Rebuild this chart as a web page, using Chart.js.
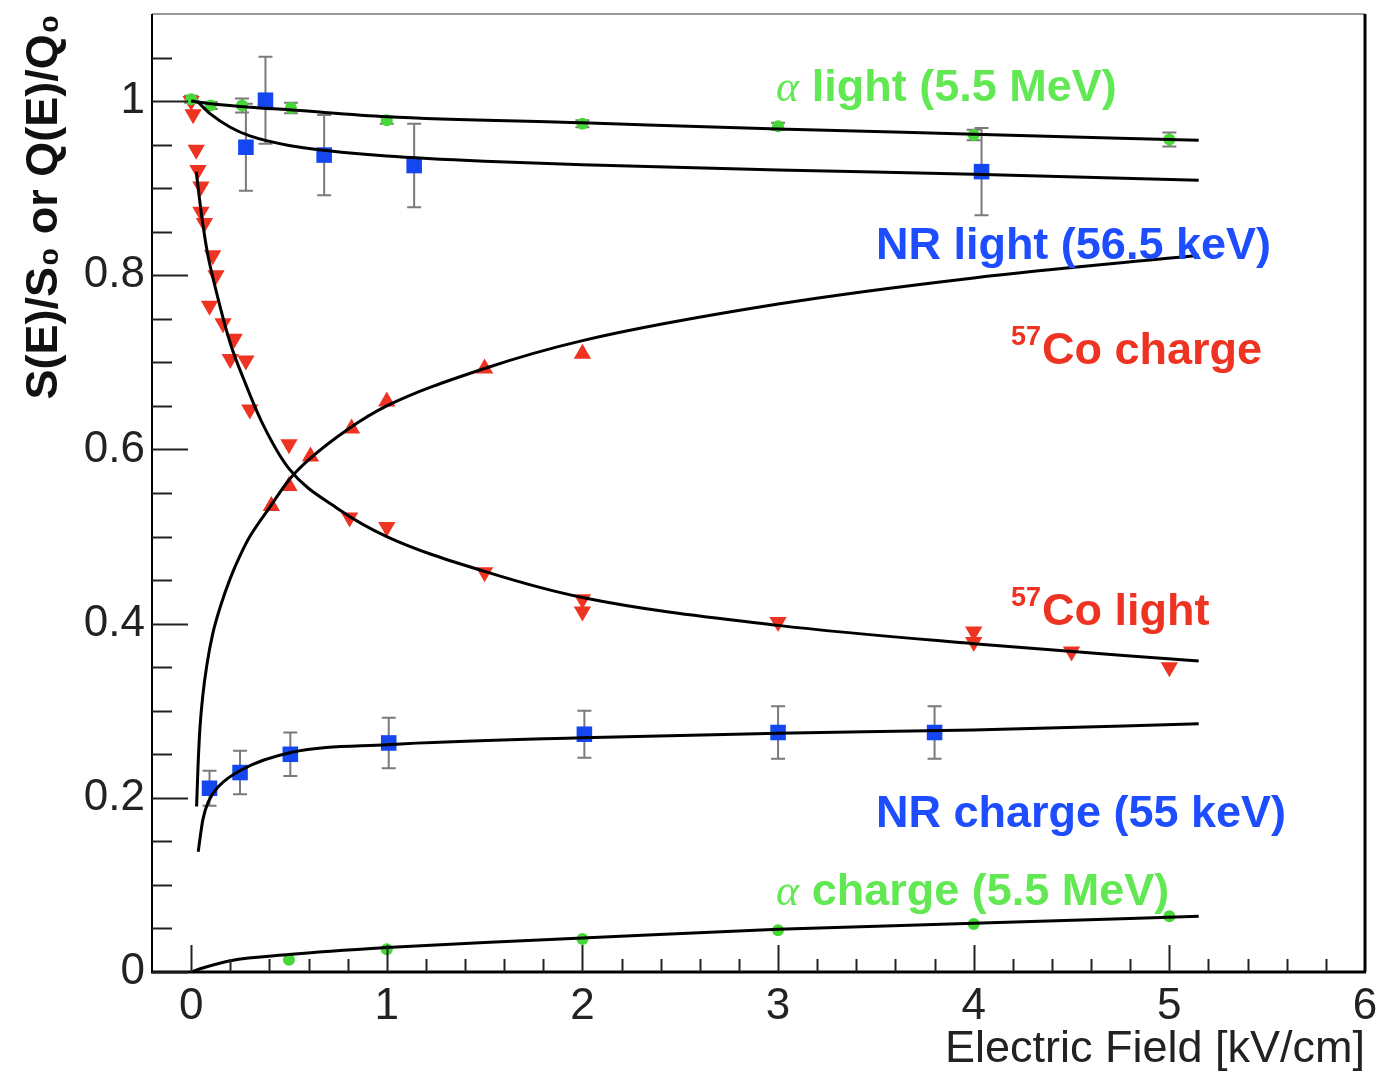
<!DOCTYPE html>
<html>
<head>
<meta charset="utf-8">
<script src="https://cdn.jsdelivr.net/npm/chart.js@4.4.1/dist/chart.umd.min.js"></script>
<style>
  html, body { margin: 0; padding: 0; background: #ffffff; }
  #wrap { width: 1392px; height: 1075px; position: relative; }
</style>
</head>
<body>
<div id="wrap"><canvas id="c" width="1392" height="1075"></canvas></div>
<script>
// ---------- axis ticks ----------
const xTickValues = [0, 1, 2, 3, 4, 5, 6];
const xTickLabels = ['0', '1', '2', '3', '4', '5', '6'];
const yTickValues = [0, 0.2, 0.4, 0.6, 0.8, 1.0];
const yTickLabels = ['0', '0.2', '0.4', '0.6', '0.8', '1'];

// ---------- measured points ----------
const alphaLightX = [0, 0.1, 0.26, 0.51, 1, 2, 3, 4, 5];
const alphaLightY = [1.002, 0.995, 0.995, 0.992, 0.978, 0.974, 0.971, 0.961, 0.956];
const alphaLightErr = [0.004, 0.004, 0.008, 0.006, 0.004, 0.004, 0.004, 0.006, 0.008];

const nrLightX = [0.28, 0.38, 0.68, 1.14, 4.04];
const nrLightY = [0.947, 1.001, 0.938, 0.926, 0.919];
const nrLightErr = [0.05, 0.05, 0.046, 0.048, 0.05];

const coLightX = [0, 0.01, 0.026, 0.035, 0.05, 0.05, 0.068, 0.094, 0.11, 0.127, 0.163, 0.2, 0.22, 0.28, 0.3, 0.5, 0.81, 1.0, 1.5, 2, 2, 3, 4, 4, 4.5, 5];
const coLightY = [1.0, 0.985, 0.944, 0.921, 0.902, 0.873, 0.86, 0.765, 0.823, 0.80, 0.745, 0.704, 0.727, 0.702, 0.646, 0.606, 0.522, 0.511, 0.459, 0.428, 0.414, 0.402, 0.391, 0.379, 0.368, 0.35];

const coChargeX = [0.41, 0.5, 0.61, 0.82, 1.0, 1.5, 2.0];
const coChargeY = [0.535, 0.558, 0.592, 0.624, 0.655, 0.693, 0.71];

const nrChargeX = [0.094, 0.25, 0.507, 1.01, 2.01, 3.0, 3.8];
const nrChargeY = [0.211, 0.229, 0.25, 0.263, 0.273, 0.275, 0.275];
const nrChargeErr = [0.02, 0.025, 0.025, 0.029, 0.027, 0.03, 0.03];

const alphaChargeX = [0.5, 1, 2, 3, 4, 5];
const alphaChargeY = [0.014, 0.026, 0.038, 0.048, 0.055, 0.064];

// ---------- fitted curves ----------
const alphaLightFitX = [0, 0.1, 0.3, 0.5, 1, 2, 3, 4, 5.15];
const alphaLightFitY = [1.0, 0.997, 0.993, 0.99, 0.982, 0.975, 0.968, 0.962, 0.955];

const nrLightFitX = [0.03, 0.1, 0.2, 0.3, 0.5, 0.7, 1, 1.5, 2, 3, 4, 5.15];
const nrLightFitY = [1.0, 0.985, 0.97, 0.96, 0.949, 0.943, 0.937, 0.931, 0.927, 0.921, 0.916, 0.909];

const coLightFitX = [0.026, 0.05, 0.08, 0.13, 0.2, 0.27, 0.36, 0.5, 0.75, 1.0, 1.5, 2, 3, 4, 5.15];
const coLightFitY = [0.919, 0.875, 0.83, 0.78, 0.722, 0.68, 0.632, 0.578, 0.532, 0.50, 0.46, 0.43, 0.398, 0.377, 0.357];

const coChargeFitX = [0.028, 0.035, 0.045, 0.06, 0.08, 0.11, 0.15, 0.2, 0.25, 0.3, 0.4, 0.5, 0.6, 0.8, 1.0, 1.5, 2, 3, 4, 5.15];
const coChargeFitY = [0.19, 0.235, 0.28, 0.318, 0.352, 0.388, 0.42, 0.452, 0.478, 0.50, 0.533, 0.565, 0.588, 0.623, 0.65, 0.693, 0.725, 0.767, 0.797, 0.823];

const nrChargeFitX = [0.036, 0.06, 0.087, 0.14, 0.256, 0.51, 1, 2, 3, 4, 5.15];
const nrChargeFitY = [0.138, 0.175, 0.195, 0.213, 0.232, 0.252, 0.261, 0.269, 0.274, 0.278, 0.285];

const alphaChargeFitX = [0, 0.05, 0.2, 0.5, 1, 1.5, 2, 3, 4, 5.15];
const alphaChargeFitY = [0, 0.004, 0.013, 0.02, 0.028, 0.034, 0.039, 0.049, 0.056, 0.064];

// ---------- helpers ----------
const pts = (xs, ys) => xs.map((x, i) => ({ x: x, y: ys[i] }));
const GREEN = '#46d838', GREEN_T = '#62e853';
const BLUE = '#1447f0', BLUE_T = '#1e4cff';
const RED = '#ee3322';

function fit(xs, ys) {
  return {
    type: 'line', data: pts(xs, ys), showLine: true, pointRadius: 0,
    borderColor: '#000', borderWidth: 3, cubicInterpolationMode: 'monotone',
    fill: false, order: 0
  };
}
function marks(xs, ys, color, style, radius, rotation, err) {
  return {
    type: 'scatter', data: pts(xs, ys), pointStyle: style, pointRadius: radius,
    pointRotation: rotation || 0, backgroundColor: color, borderColor: color,
    borderWidth: 0, showLine: false, order: 1, errors: err || null
  };
}

const datasets = [
  marks(alphaLightX, alphaLightY, GREEN, 'circle', 6, 0, alphaLightErr),
  marks(nrLightX, nrLightY, BLUE, 'rect', 11, 0, nrLightErr),
  marks(coLightX, coLightY, RED, 'triangle', 10, 180, null),
  marks(coChargeX, coChargeY, RED, 'triangle', 10, 0, null),
  marks(nrChargeX, nrChargeY, BLUE, 'rect', 11, 0, nrChargeErr),
  marks(alphaChargeX, alphaChargeY, GREEN, 'circle', 6, 0, null),
  fit(alphaLightFitX, alphaLightFitY),
  fit(nrLightFitX, nrLightFitY),
  fit(coLightFitX, coLightFitY),
  fit(coChargeFitX, coChargeFitY),
  fit(nrChargeFitX, nrChargeFitY),
  fit(alphaChargeFitX, alphaChargeFitY)
];

// ---------- annotation labels (x, y are data coordinates of the baseline start) ----------
const labels = [
  { pre: 'α', sup: '', text: ' light (5.5 MeV)', x: 2.99, y: 1.0, color: GREEN_T },
  { pre: '', sup: '', text: 'NR light (56.5 keV)', x: 3.5, y: 0.819, color: BLUE_T },
  { pre: '', sup: '57', text: 'Co charge', x: 4.19, y: 0.6985, color: RED },
  { pre: '', sup: '57', text: 'Co light', x: 4.19, y: 0.399, color: RED },
  { pre: '', sup: '', text: 'NR charge (55 keV)', x: 3.5, y: 0.167, color: BLUE_T },
  { pre: 'α', sup: '', text: ' charge (5.5 MeV)', x: 2.99, y: 0.077, color: GREEN_T }
];

const FONT = "'Liberation Sans', Arial, Helvetica, sans-serif";

const errorBarPlugin = {
  id: 'errorBars',
  beforeDatasetsDraw(chart) {
    const ctx = chart.ctx, xs = chart.scales.x, ys = chart.scales.y;
    ctx.save();
    ctx.strokeStyle = '#7a7a7a';
    ctx.lineWidth = 2;
    chart.data.datasets.forEach(ds => {
      if (!ds.errors) return;
      ds.data.forEach((p, i) => {
        const e = ds.errors[i];
        if (!e) return;
        const px = xs.getPixelForValue(p.x);
        const y1 = ys.getPixelForValue(p.y - e), y2 = ys.getPixelForValue(p.y + e);
        ctx.beginPath();
        ctx.moveTo(px, y1); ctx.lineTo(px, y2);
        ctx.moveTo(px - 7, y1); ctx.lineTo(px + 7, y1);
        ctx.moveTo(px - 7, y2); ctx.lineTo(px + 7, y2);
        ctx.stroke();
      });
    });
    ctx.restore();
  }
};

const framePlugin = {
  id: 'rootFrame',
  afterDraw(chart) {
    const ctx = chart.ctx, a = chart.chartArea;
    const xs = chart.scales.x, ys = chart.scales.y;
    ctx.save();
    // frame
    ctx.lineCap = 'butt';
    ctx.strokeStyle = '#999';
    ctx.lineWidth = 2;
    ctx.beginPath(); ctx.moveTo(a.left, a.top); ctx.lineTo(a.right, a.top); ctx.stroke();
    ctx.strokeStyle = '#000';
    ctx.lineWidth = 3;
    ctx.beginPath(); ctx.moveTo(a.right, a.top); ctx.lineTo(a.right, a.bottom); ctx.stroke();
    ctx.beginPath(); ctx.moveTo(a.left - 1, a.bottom); ctx.lineTo(a.right + 1, a.bottom); ctx.stroke();
    ctx.lineWidth = 2;
    ctx.beginPath(); ctx.moveTo(a.left, a.top); ctx.lineTo(a.left, a.bottom); ctx.stroke();
    // y ticks (inward)
    ctx.strokeStyle = '#222';
    ctx.lineWidth = 2;
    for (let i = 0; i <= 22; i++) {
      const v = i * 0.05;
      const py = Math.round(ys.getPixelForValue(v)) + 0.5;
      if (py < a.top + 2) continue;
      const len = (i % 4 === 0) ? 36 : 20;
      ctx.beginPath(); ctx.moveTo(a.left, py); ctx.lineTo(a.left + len, py); ctx.stroke();
    }
    // x ticks (inward)
    for (let i = 0; i <= 30; i++) {
      const v = i * 0.2;
      const px = Math.round(xs.getPixelForValue(v)) + 0.5;
      if (px > a.right - 2) continue;
      const len = (i % 5 === 0) ? 27 : 13;
      ctx.beginPath(); ctx.moveTo(px, a.bottom); ctx.lineTo(px, a.bottom - len); ctx.stroke();
    }
    // annotation labels
    ctx.textBaseline = 'alphabetic';
    ctx.textAlign = 'left';
    labels.forEach(l => {
      let px = xs.getPixelForValue(l.x);
      const py = ys.getPixelForValue(l.y);
      ctx.fillStyle = l.color;
      if (l.pre) {
        ctx.font = "italic 44px 'Liberation Serif', 'DejaVu Serif', serif";
        ctx.fillText(l.pre, px, py);
        px += ctx.measureText(l.pre).width;
      }
      if (l.sup) {
        ctx.font = "bold 27px " + FONT;
        ctx.fillText(l.sup, px, py - 19);
        px += ctx.measureText(l.sup).width + 1;
      }
      ctx.font = "bold 45px " + FONT;
      ctx.fillText(l.text, px, py);
    });
    ctx.restore();
  }
};

new Chart(document.getElementById('c'), {
  type: 'scatter',
  data: { datasets: datasets },
  options: {
    responsive: false,
    animation: false,
    devicePixelRatio: 1,
    layout: { padding: { top: 14, right: 27, left: 0, bottom: 0 } },
    plugins: { legend: { display: false }, tooltip: { enabled: false } },
    elements: { line: { borderJoinStyle: 'round' } },
    scales: {
      x: {
        type: 'linear', min: -0.2, max: 6,
        afterFit(s) { s.height = 103; s.paddingLeft = 0; s.paddingRight = 0; },
        afterBuildTicks(s) { s.ticks = xTickValues.map(v => ({ value: v })); },
        grid: { display: false, drawTicks: false },
        border: { display: false },
        ticks: {
          autoSkip: false, maxRotation: 0, padding: 8, color: '#222',
          font: { family: FONT, size: 44 },
          callback: (v) => { const i = xTickValues.indexOf(v); return i >= 0 ? xTickLabels[i] : ''; }
        },
        title: {
          display: true, text: 'Electric Field [kV/cm]', align: 'end', color: '#222',
          font: { family: FONT, size: 45, lineHeight: 1 }, padding: { top: 0, bottom: 3 }
        }
      },
      y: {
        type: 'linear', min: 0, max: 1.1,
        afterFit(s) { s.width = 152; s.paddingTop = 0; s.paddingBottom = 0; },
        afterBuildTicks(s) { s.ticks = yTickValues.map(v => ({ value: v })); },
        grid: { display: false, drawTicks: false },
        border: { display: false },
        ticks: {
          autoSkip: false, padding: 7, color: '#222',
          font: { family: FONT, size: 44 },
          callback: (v) => { const i = yTickValues.findIndex(t => Math.abs(t - v) < 1e-9); return i >= 0 ? yTickLabels[i] : ''; }
        },
        title: {
          display: true, text: 'S(E)/S₀ or Q(E)/Q₀', align: 'end', color: '#111',
          font: { family: FONT, size: 45, weight: 'bold', lineHeight: 1.2 }, padding: { top: 18, bottom: 0 }
        }
      }
    }
  },
  plugins: [errorBarPlugin, framePlugin]
});
</script>
</body>
</html>
